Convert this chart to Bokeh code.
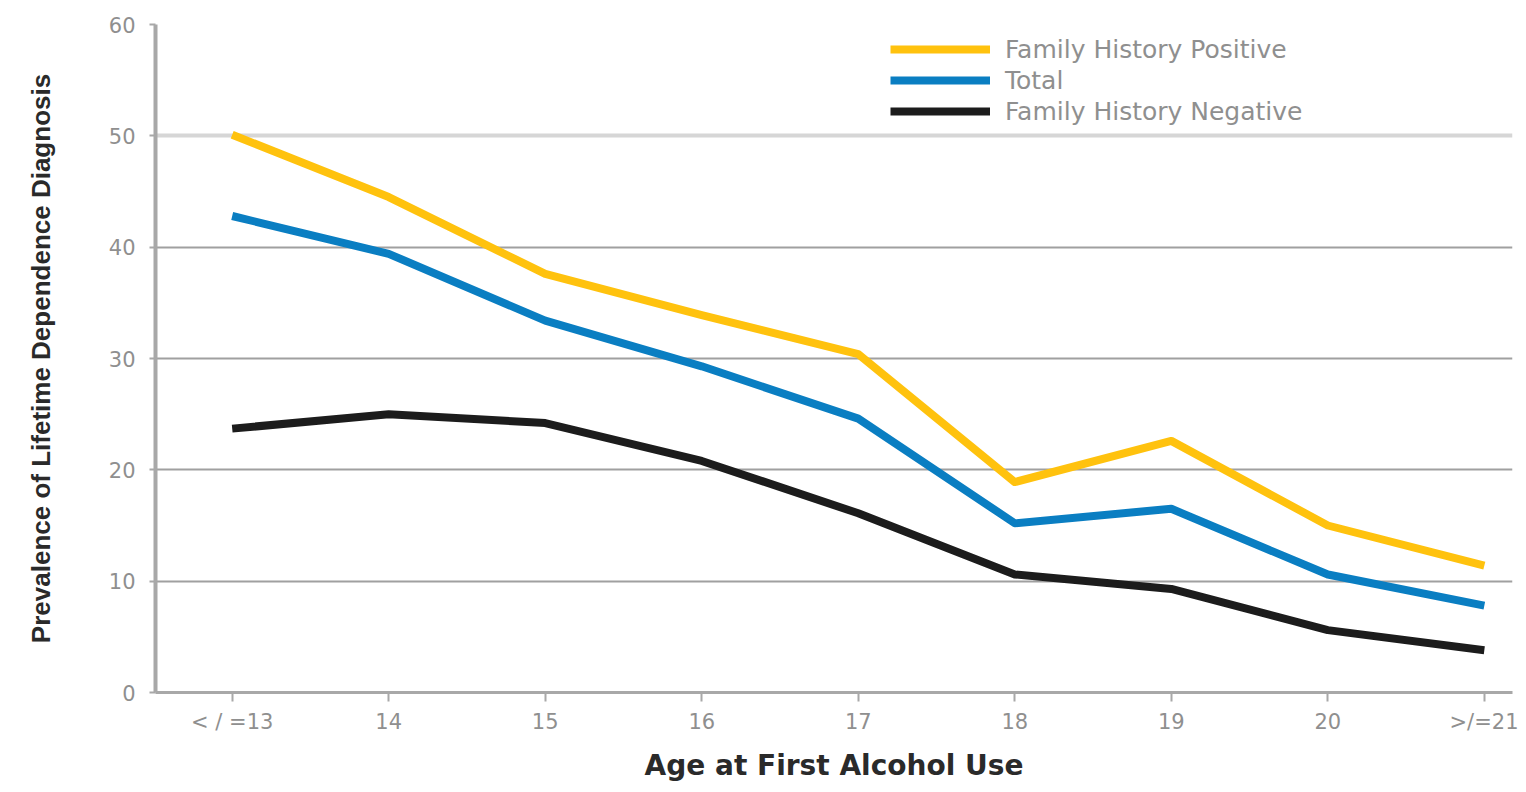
from bokeh.plotting import figure
from bokeh.models import FixedTicker, Grid, Legend, LegendItem
from bokeh.embed import file_html
from bokeh.resources import INLINE

categories = ["< / =13", "14", "15", "16", "17", "18", "19", "20", ">/=21"]
fh_positive = [50.1, 44.5, 37.6, 33.9, 30.4, 18.9, 22.6, 15.0, 11.4]
total = [42.8, 39.4, 33.4, 29.3, 24.6, 15.2, 16.5, 10.6, 7.8]
fh_negative = [23.7, 25.0, 24.2, 20.8, 16.1, 10.6, 9.3, 5.6, 3.8]
y_ticks = [0, 10, 20, 30, 40, 50, 60]
light_grid_ticks = [50]

xs = list(range(len(categories)))

p = figure(width=1518, height=784, output_backend="svg", toolbar_location=None,
           x_range=(-0.49, 8.18), y_range=(0, 60),
           min_border_left=155, min_border_right=6, min_border_top=24, min_border_bottom=89)
p.outline_line_color = None
p.background_fill_color = "white"
p.border_fill_color = "white"

# axes
p.xaxis.ticker = FixedTicker(ticks=xs)
p.xaxis.major_label_overrides = {i: c for i, c in enumerate(categories)}
p.yaxis.ticker = FixedTicker(ticks=y_ticks)
for ax in (p.xaxis, p.yaxis):
    ax.axis_line_color = "#a8a8a8"
    ax.major_tick_line_color = "#a8a8a8"
    ax.major_tick_line_width = 2
    ax.minor_tick_line_color = None
    ax.major_label_text_color = "#8f8f8f"
    ax.major_label_text_font = "DejaVu Sans"
    ax.major_label_text_font_size = "21px"
p.yaxis.axis_line_width = 4
p.xaxis.axis_line_width = 3
p.xaxis.major_tick_out = 9
p.xaxis.major_tick_in = 0
p.yaxis.major_tick_out = 6
p.yaxis.major_tick_in = 0
p.xaxis.major_label_standoff = 8
p.yaxis.major_label_standoff = 14

p.xaxis.axis_label = "Age at First Alcohol Use"
p.xaxis.axis_label_text_font = "DejaVu Sans"
p.xaxis.axis_label_text_font_size = "28px"
p.xaxis.axis_label_text_font_style = "bold"
p.xaxis.axis_label_text_color = "#2a2a2a"
p.xaxis.axis_label_standoff = 12

p.yaxis.axis_label = "Prevalence of Lifetime Dependence Diagnosis"
p.yaxis.axis_label_text_font = "Liberation Sans"
p.yaxis.axis_label_text_font_size = "26px"
p.yaxis.axis_label_text_font_style = "bold"
p.yaxis.axis_label_text_color = "#2a2a2a"
p.yaxis.axis_label_standoff = 50

# grids
p.xgrid.grid_line_color = None
p.ygrid.ticker = FixedTicker(ticks=[t for t in y_ticks if t not in light_grid_ticks])
p.ygrid.grid_line_color = "#a0a0a0"
p.ygrid.grid_line_width = 2
light = Grid(dimension=1, ticker=FixedTicker(ticks=light_grid_ticks),
             grid_line_color="#d6d6d6", grid_line_width=4)
p.add_layout(light)

r1 = p.line(xs, fh_positive, line_color="#FFC20E", line_width=8, line_join="round")
r2 = p.line(xs, total, line_color="#0A7EC2", line_width=8, line_join="round")
r3 = p.line(xs, fh_negative, line_color="#1c1c1c", line_width=8, line_join="round")

legend = Legend(items=[LegendItem(label="Family History Positive", renderers=[r1]),
                       LegendItem(label="Total", renderers=[r2]),
                       LegendItem(label="Family History Negative", renderers=[r3])],
                location=(735, 566), orientation="vertical")
legend.background_fill_alpha = 0
legend.border_line_color = None
legend.label_text_font = "DejaVu Sans"
legend.label_text_font_size = "25px"
legend.label_text_color = "#8f8f8f"
legend.glyph_width = 100
legend.glyph_height = 30
legend.label_height = 30
legend.spacing = 1
legend.padding = 0
legend.margin = 0
legend.label_standoff = 15
p.add_layout(legend, "center")

open("out.html", "w").write(file_html(p, INLINE))
